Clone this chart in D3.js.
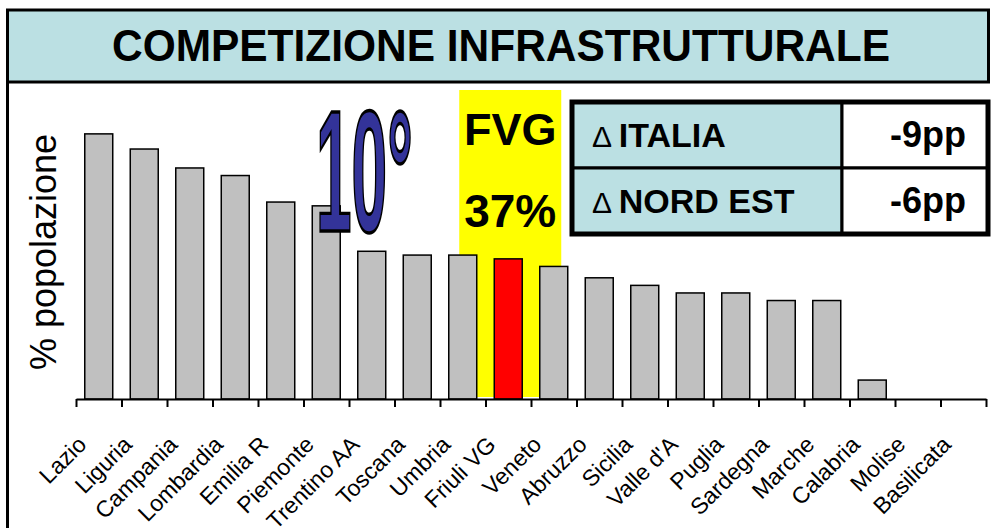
<!DOCTYPE html>
<html>
<head>
<meta charset="utf-8">
<script src="https://cdn.jsdelivr.net/npm/d3@7"></script>
<style>
    body { margin: 0; background: #fff; }
    text { font-family: "Liberation Sans", Arial, sans-serif; }
</style>
</head>
<body>
<div id="chart"></div>
<script>
// data
var regions = ['Lazio', 'Liguria', 'Campania', 'Lombardia', 'Emilia R', 'Piemonte', 'Trentino AA',
    'Toscana', 'Umbria', 'Friuli VG', 'Veneto', 'Abruzzo', 'Sicilia', "Valle d'A", 'Puglia',
    'Sardegna', 'Marche', 'Calabria', 'Molise', 'Basilicata'];
var values = [70, 66, 61, 59, 52, 51, 39, 38, 38, 37, 35, 32, 30, 28, 28, 26, 26, 5, 0, 0];
var highlight = 'Friuli VG';
var rankLabel = '10°';
var fvgLabels = ['FVG', '37%'];
var deltaRows = ['ITALIA', 'NORD EST'];
var deltaValues = ['-9pp', '-6pp'];

window.onload = function () {
    var W = 991, H = 528;
    var base = 399;

    var svg = d3.select("#chart")
        .append("svg")
        .attr("width", W)
        .attr("height", H);

    // title box
    svg.append("rect")
        .attr("x", 7.5).attr("y", 10)
        .attr("width", 981).attr("height", 72)
        .style("fill", "#bbe0e3")
        .style("stroke", "#000")
        .style("stroke-width", 3);
    svg.append("text")
        .attr("x", 112).attr("y", 61)
        .attr("textLength", 778)
        .attr("lengthAdjust", "spacingAndGlyphs")
        .style("font-size", "44px")
        .style("font-weight", "bold")
        .text("COMPETIZIONE INFRASTRUTTURALE");

    // left frame line
    svg.append("line")
        .attr("x1", 7.5).attr("x2", 7.5)
        .attr("y1", 82).attr("y2", H)
        .style("stroke", "#000")
        .style("stroke-width", 3);

    var x = d3.scaleBand()
        .domain(regions)
        .range([76, 986])
        .paddingInner(0.385)
        .paddingOuter(0.1925);

    var y = d3.scaleLinear()
        .domain([0, 80])
        .range([base, 96]);

    // yellow highlight behind FVG
    var cx = x(highlight) + x.bandwidth() / 2;
    svg.append("rect")
        .attr("x", cx - 49).attr("y", 90)
        .attr("width", 102).attr("height", base - 2 - 90)
        .style("fill", "#ffff00");

    // bars
    svg.append("g")
        .selectAll("rect")
        .data(regions)
        .enter()
        .append("rect")
        .filter(function (d, i) { return values[i] > 0; })
        .attr("x", function (d) { return x(d); })
        .attr("y", function (d) { return y(values[regions.indexOf(d)]); })
        .attr("width", x.bandwidth())
        .attr("height", function (d) { return base - y(values[regions.indexOf(d)]); })
        .style("fill", function (d) { return d === highlight ? "#ff0000" : "#c0c0c0"; })
        .style("stroke", "#000")
        .style("stroke-width", 1.5);

    // category axis: ticks on band edges
    var edge = d3.scaleLinear().domain([0, regions.length]).range([76, 986]);
    var axis = svg.append("g")
        .attr("transform", "translate(0," + base + ")")
        .call(d3.axisBottom(edge).tickValues(d3.range(regions.length + 1))
            .tickSize(8).tickSizeOuter(0).tickFormat(""));
    axis.select(".domain").style("stroke", "#000").style("stroke-width", 2);
    axis.selectAll(".tick line").style("stroke", "#000").style("stroke-width", 2);

    // rotated labels
    svg.append("g")
        .selectAll("text")
        .data(regions)
        .enter()
        .append("text")
        .attr("transform", function (d) {
            return "translate(" + (x(d) + x.bandwidth() / 2 - 11) + "," + 446 + ") rotate(-45)";
        })
        .style("text-anchor", "end")
        .style("font-size", "23px")
        .text(function (d) { return d; });

    // y axis title
    svg.append("text")
        .attr("transform", "translate(56," + 252 + ") rotate(-90)")
        .style("text-anchor", "middle")
        .style("font-size", "36px")
        .text("% popolazione");

    // 10° rank label
    svg.append("text")
        .attr("transform", "translate(316,231) scale(0.64,1.72)")
        .style("font-size", "100px")
        .style("font-weight", "bold")
        .style("fill", "#333399")
        .style("stroke", "#000")
        .style("stroke-width", 2)
        .text(rankLabel);

    // FVG labels
    svg.append("text")
        .attr("x", cx + 2).attr("y", 145)
        .style("text-anchor", "middle")
        .style("font-size", "45px")
        .style("font-weight", "bold")
        .text(fvgLabels[0]);
    svg.append("text")
        .attr("x", cx + 2).attr("y", 227)
        .style("text-anchor", "middle")
        .style("font-size", "46px")
        .style("font-weight", "bold")
        .text(fvgLabels[1]);

    // delta table
    var tX = 572, tY = 102, rowH = 66, splitX = 842, tR = 988;
    deltaRows.forEach(function (r, i) {
        svg.append("rect")
            .attr("x", tX).attr("y", tY + i * rowH)
            .attr("width", splitX - tX).attr("height", rowH)
            .style("fill", "#bbe0e3")
            .style("stroke", "#000")
            .style("stroke-width", 3);
        svg.append("rect")
            .attr("x", splitX).attr("y", tY + i * rowH)
            .attr("width", tR - splitX).attr("height", rowH)
            .style("fill", "#fff")
            .style("stroke", "#000")
            .style("stroke-width", 3);
        var t = svg.append("text")
            .attr("x", 592).attr("y", tY + i * rowH + 45)
            .style("font-size", "34px")
            .style("font-weight", "bold");
        t.append("tspan").style("font-weight", "normal").style("font-size", "30px").text("Δ ");
        t.append("tspan").text(r);
        svg.append("text")
            .attr("x", 928).attr("y", tY + i * rowH + 45)
            .style("text-anchor", "middle")
            .style("font-size", "36px")
            .style("font-weight", "bold")
            .text(deltaValues[i]);
    });
    svg.append("rect")
        .attr("x", tX).attr("y", tY)
        .attr("width", tR - tX).attr("height", rowH * 2)
        .style("fill", "none")
        .style("stroke", "#000")
        .style("stroke-width", 5);
};
</script>
</body>
</html>
